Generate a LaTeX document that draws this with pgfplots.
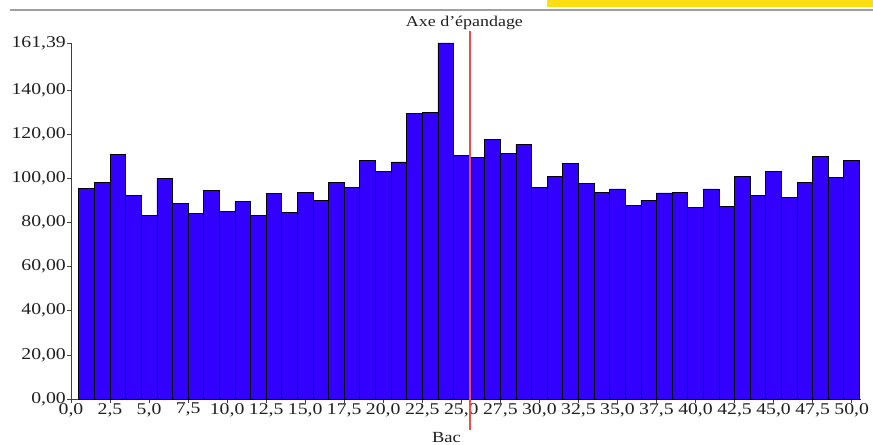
\documentclass[border=0pt]{standalone}
\usepackage{fontspec}
\setmainfont[FakeStretch=1.2]{Liberation Serif}
\usepackage{pgfplots}
\pgfplotsset{compat=1.18}
\definecolor{barblue}{RGB}{51,0,255}
\definecolor{axred}{RGB}{230,80,80}
\definecolor{topgray}{RGB}{160,160,160}
\definecolor{topyellow}{RGB}{255,222,20}
\begin{document}
\begin{tikzpicture}[x=1bp,y=1bp]
\useasboundingbox (-71,-46) rectangle (802,399);
\fill[topyellow] (476,391.5) rectangle (802,399);
\draw[topgray,line width=1.2bp] (-61,389) -- (802,389);
\begin{axis}[
  scale only axis,
  width=790bp, height=356bp,
  xmin=0, xmax=50.6, ymin=0, ymax=161.39,
  axis lines=left,
  axis line style={-, black!75, line width=0.8bp},
  clip=false,
  xtick={0,2.5,...,50},
  xticklabels={{0,0},{2,5},{5,0},{7,5},{10,0},{12,5},{15,0},{17,5},{20,0},{22,5},{25,0},{27,5},{30,0},{32,5},{35,0},{37,5},{40,0},{42,5},{45,0},{47,5},{50,0}},
  ytick={0,20,40,60,80,100,120,140,161.39},
  yticklabels={{0,00},{20,00},{40,00},{60,00},{80,00},{100,00},{120,00},{140,00},{161,39}},
  tick style={black!75, line width=0.6bp},
  tick align=outside,
  major tick length=4bp,
  ticklabel style={font=\fontsize{16.5}{17}\selectfont, text=black!88},
  /pgf/number format/assume math mode=true,
  xticklabel style={inner sep=1pt, yshift=1pt},
  yticklabel style={inner sep=1pt},
]
\addplot[ybar interval=1, fill=barblue, draw=black, line width=0.7bp] coordinates {
(0.5,95.6) (1.5,98.0) (2.5,110.9) (3.5,92.3) (4.5,83.3) (5.5,99.9) (6.5,88.8) (7.5,84.3) (8.5,94.4) (9.5,85.2)
(10.5,89.4) (11.5,83.3) (12.5,93.1) (13.5,84.4) (14.5,93.7) (15.5,90.0) (16.5,98.2) (17.5,95.8) (18.5,108.1) (19.5,103.2)
(20.5,107.5) (21.5,129.3) (22.5,130.0) (23.5,161.39) (24.5,110.4) (25.5,109.6) (26.5,117.8) (27.5,111.2) (28.5,115.5) (29.5,95.8)
(30.5,100.8) (31.5,106.8) (32.5,97.9) (33.5,93.5) (34.5,95.2) (35.5,87.8) (36.5,90.2) (37.5,93.4) (38.5,93.7) (39.5,87.0)
(40.5,95.2) (41.5,87.3) (42.5,100.9) (43.5,92.3) (44.5,103.0) (45.5,91.3) (46.5,98.1) (47.5,110.0) (48.5,100.3) (49.5,108.1)
(50.5,108.1)
};
\addplot[color=axred, solid, line width=1.3bp, mark=none, forget plot] coordinates {(25.55,-14) (25.55,166.8)};
\node[font=\fontsize{15}{16}\selectfont, text=black!88, inner sep=0pt] at (axis cs:25.2,170.3) {Axe d'épandage};
\node[font=\fontsize{15.5}{16}\selectfont, text=black!88, inner sep=0pt, anchor=north] at (axis cs:24.05,-15.0) {Bac};
\end{axis}
\end{tikzpicture}
\end{document}
